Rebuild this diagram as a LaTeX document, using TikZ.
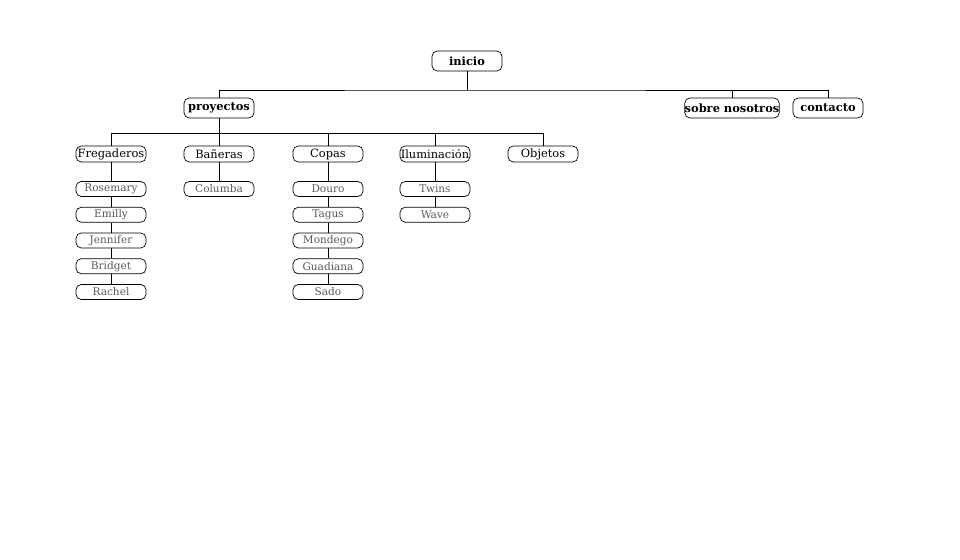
\documentclass[tikz,border=0pt]{standalone}
\usepackage{fontspec}
\setmainfont{DejaVu Serif}
\usetikzlibrary{calc}
\tikzset{
  box/.style={draw, rounded corners=3pt, minimum width=1.4cm, inner sep=0pt, font=\fontsize{6.5}{7}\selectfont},
  top/.style={box, minimum height=0.4cm, font=\fontsize{6.5}{7}\selectfont\bfseries},
  sec/.style={box, minimum height=0.32cm},
  leaf/.style={box, minimum height=0.3cm, text=black!65, font=\fontsize{6}{7}\selectfont},
}
\begin{document}
\begin{tikzpicture}[x=0.02cm, y=-0.02cm]
\useasboundingbox (0,0) rectangle (960,560);
\node[top] (inicio) at (467,61) {inicio};
\node[top] (proy) at (219,108) {proyectos};
\node[top, minimum width=1.88cm] (sobre) at (732,108) {sobre nosotros};
\node[top] (cont) at (828,108) {contacto};
\coordinate (j1) at (467,90);
\draw (inicio) -- (j1);
\draw (proy) |- (j1) -| (cont);
\draw (sobre) -- (sobre |- j1);
% secciones
\coordinate (j2) at (219,133);
\draw (proy) -- (j2);
\foreach \n/\x/\t in {freg/111/Fregaderos, ban/219/Bañeras, cop/328/Copas, ilu/435/Iluminación, obj/543/Objetos}
{
    \node[sec] (\n) at (\x,154) {\t};
    \draw (\n) -- (\n |- j2);
}
\draw (freg |- j2) -- (obj |- j2);
% productos
\foreach \n/\list in {freg/{Rosemary,Emilly,Jennifer,Bridget,Rachel}, ban/{Columba}, cop/{Douro,Tagus,Mondego,Guadiana,Sado}, ilu/{Twins,Wave}}
{
    \foreach \t [count=\i, remember=\i as \p (initially 0)] in \list
    {
        \node[leaf] (\n-\i) at ($(\n)+(0,{35+25.75*(\i-1)})$) {\t};
        \ifnum\p=0 \draw (\n) -- (\n-\i); \else \draw (\n-\p) -- (\n-\i); \fi
    }
}
\end{tikzpicture}
\end{document}
